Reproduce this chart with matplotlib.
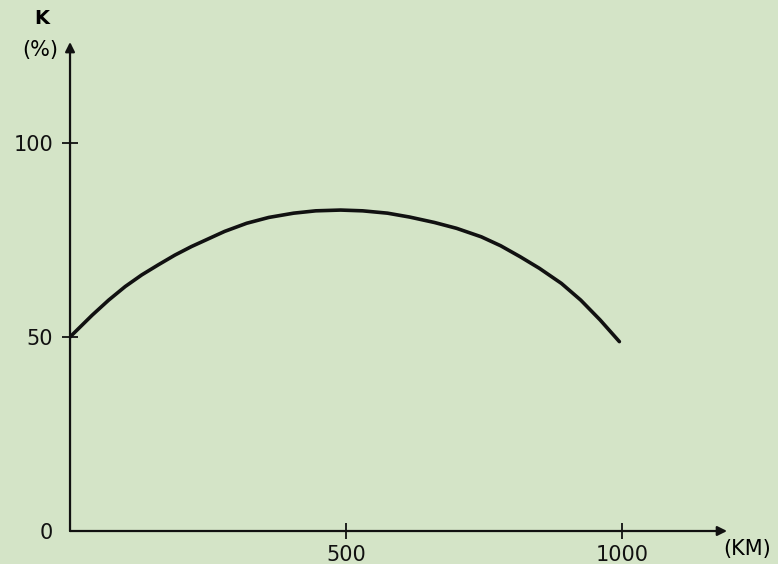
import matplotlib.pyplot as plt
import numpy as np

# values
dist_km = [0, 40, 70, 100, 130, 160, 190, 220, 240, 280, 320, 360, 405,
		   445, 490, 530, 575, 615, 660, 700, 745, 780, 815, 850, 890, 925,
		   960, 995]
k_pct = [50, 55.6, 59.5, 63.0, 66.0, 68.6, 71.1, 73.3, 74.6, 77.2, 79.3,
		 80.8, 81.9, 82.5, 82.7, 82.5, 81.9, 80.9, 79.5, 78.0, 75.8,
		 73.5, 70.7, 67.7, 63.8, 59.5, 54.4, 48.8]

x_ticks = [500, 1000]
y_ticks = [50, 100]
x_max, y_max = 1190, 126

bg = '#d4e4c7'

fig = plt.figure(figsize=(7.78, 5.64), dpi=100, facecolor=bg)
ax = fig.add_axes([0.09, 0.0585, 0.8445, 0.867])
ax.set_facecolor(bg)

ax.plot(dist_km, k_pct, color='#111111', linewidth=2.6, solid_capstyle='round',
		solid_joinstyle='round')

ax.set_xlim(0, x_max)
ax.set_ylim(0, y_max)
for s in ax.spines.values():
	s.set_visible(False)

# axes drawn as arrows
arrow = dict(arrowstyle='-|>', color='#111111', lw=1.6, mutation_scale=14, shrinkA=0, shrinkB=0)
ax.annotate('', xy=(x_max, 0), xytext=(0, 0), arrowprops=arrow, annotation_clip=False)
ax.annotate('', xy=(0, y_max), xytext=(0, 0), arrowprops=arrow, annotation_clip=False)

ax.set_xticks(x_ticks)
ax.set_yticks([0] + y_ticks)
ax.set_xticklabels([str(v) for v in x_ticks])
ax.set_yticklabels(['0'] + [str(v) for v in y_ticks])
ax.tick_params(axis='x', direction='inout', length=12, width=1.3, pad=4, labelsize=15, colors='#111111')
ax.tick_params(axis='y', direction='inout', length=12, width=1.3, pad=6, labelsize=15, colors='#111111')
ax.yaxis.get_major_ticks()[0].tick1line.set_visible(False)

ax.text(-0.043, 1.049, 'K', transform=ax.transAxes, fontsize=14, fontweight='bold', ha='center', va='center')
ax.text(-0.045, 0.984, '(%)', transform=ax.transAxes, fontsize=15, ha='center', va='center')
ax.text(1.03, -0.036, '(KM)', transform=ax.transAxes, fontsize=15, ha='center', va='center')

fig.savefig('out.png', dpi=100, facecolor=bg)
